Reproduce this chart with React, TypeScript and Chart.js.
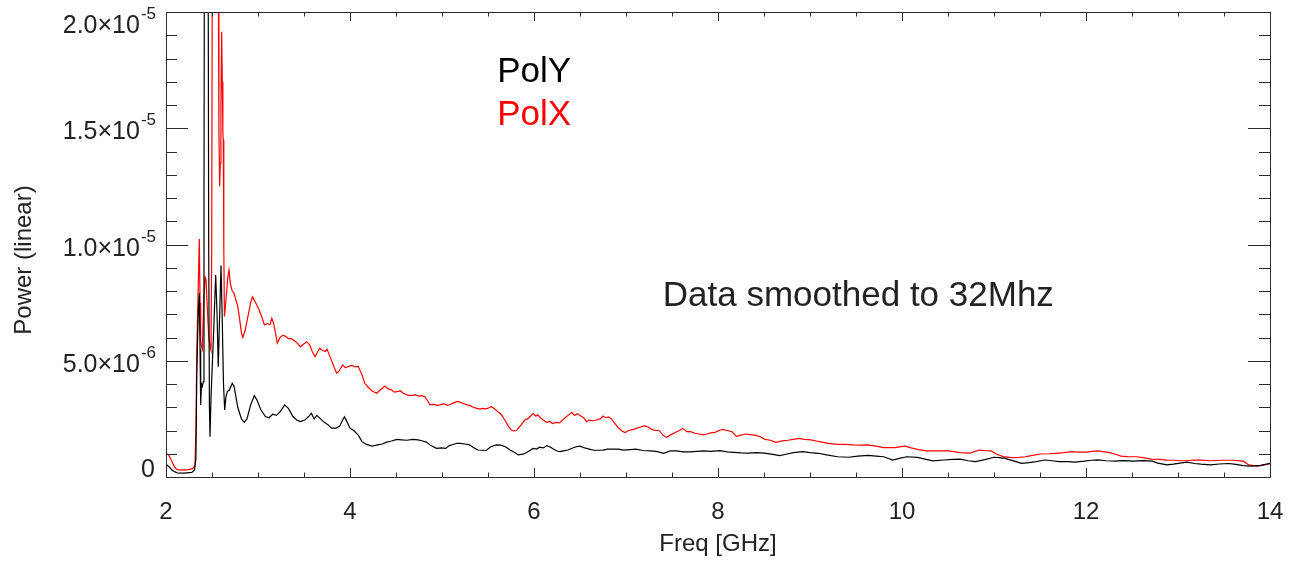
import React, { useEffect, useRef } from 'react';
import { Chart, registerables } from 'chart.js';

Chart.register(...registerables);

// PolY (black) – frequency in GHz, power in units of 1e-6
const FREQ_Y = [
  2.0, 2.03, 2.07, 2.12, 2.2, 2.28, 2.31, 2.325, 2.335, 2.35, 2.362, 2.37, 2.377, 2.385, 2.395, 2.405,
  2.413, 2.42, 2.455, 2.464, 2.472, 2.478, 2.49, 2.52, 2.54, 2.555, 2.568, 2.58, 2.598, 2.61, 2.625, 2.638,
  2.65, 2.666, 2.69, 2.72, 2.74, 2.78, 2.82, 2.85, 2.88, 2.92, 2.96, 2.99, 3.03, 3.08, 3.12, 3.16,
  3.2, 3.24, 3.29, 3.33, 3.38, 3.42, 3.46, 3.51, 3.55, 3.58, 3.61, 3.64, 3.68, 3.72, 3.76, 3.8,
  3.85, 3.89, 3.92, 3.94, 3.97, 4.0, 4.04, 4.09, 4.13, 4.18, 4.24, 4.3, 4.35, 4.4, 4.45, 4.51,
  4.56, 4.62, 4.68, 4.74, 4.79, 4.83, 4.88, 4.94, 4.99, 5.04, 5.08, 5.12, 5.16, 5.2, 5.25, 5.3,
  5.35, 5.39, 5.44, 5.48, 5.53, 5.59, 5.64, 5.69, 5.74, 5.79, 5.83, 5.88, 5.92, 5.96, 5.99, 6.03,
  6.06, 6.1, 6.14, 6.18, 6.21, 6.25, 6.28, 6.32, 6.37, 6.42, 6.46, 6.5, 6.55, 6.6, 6.65, 6.7,
  6.75, 6.8, 6.86, 6.92, 6.97, 7.04, 7.11, 7.18, 7.26, 7.33, 7.41, 7.48, 7.55, 7.62, 7.7, 7.77,
  7.84, 7.92, 8.02, 8.1, 8.17, 8.25, 8.33, 8.42, 8.5, 8.58, 8.67, 8.74, 8.82, 8.92, 9.0, 9.09,
  9.18, 9.3, 9.42, 9.52, 9.63, 9.72, 9.8, 9.9, 9.97, 10.05, 10.17, 10.26, 10.34, 10.45, 10.55, 10.63,
  10.72, 10.8, 10.9, 11.0, 11.06, 11.12, 11.22, 11.3, 11.38, 11.46, 11.55, 11.63, 11.71, 11.8, 11.88, 11.98,
  12.06, 12.13, 12.22, 12.32, 12.4, 12.51, 12.62, 12.72, 12.78, 12.88, 12.95, 13.02, 13.1, 13.18, 13.25, 13.35,
  13.45, 13.55, 13.63, 13.71, 13.8, 13.9, 14.0,
];
const POL_Y = [
  0.55, 0.45, 0.28, 0.18, 0.17, 0.2, 0.3, 0.8, 4.5, 7.0, 7.9, 5.5, 3.1, 4.0, 3.9, 4.1,
  12, 30, 30, 10, 3, 1.73, 3.5, 6.5, 8.69, 7, 4.74, 6.5, 9.1, 7, 4, 2.88,
  3.4, 3.67, 3.75, 4.03, 3.9, 3.0, 2.5, 2.35, 2.5, 3.1, 3.5, 3.3, 2.9, 2.6, 2.55, 2.7,
  2.65, 2.8, 3.1, 2.95, 2.6, 2.45, 2.38, 2.45, 2.6, 2.74, 2.5, 2.65, 2.5, 2.35, 2.25, 2.1,
  2.1, 2.2, 2.45, 2.59, 2.35, 2.1, 2.0, 1.8, 1.52, 1.4, 1.33, 1.38, 1.42, 1.5, 1.55, 1.62,
  1.6, 1.58, 1.62, 1.6, 1.55, 1.5, 1.35, 1.23, 1.25, 1.23, 1.35, 1.4, 1.45, 1.45, 1.42, 1.38,
  1.25, 1.16, 1.15, 1.14, 1.3, 1.38, 1.37, 1.3, 1.16, 1.05, 0.95, 0.98, 1.05, 1.15, 1.23, 1.2,
  1.28, 1.25, 1.35, 1.28, 1.2, 1.12, 1.09, 1.12, 1.16, 1.25, 1.3, 1.33, 1.25, 1.2, 1.15, 1.15,
  1.16, 1.2, 1.2, 1.2, 1.16, 1.18, 1.2, 1.14, 1.12, 1.1, 1.02, 1.12, 1.12, 1.08, 1.08, 1.1,
  1.12, 1.1, 1.13, 1.08, 1.06, 1.04, 1.03, 1.05, 1.03, 0.98, 0.92, 0.98, 1.05, 1.09, 1.05, 1.02,
  0.95, 0.87, 0.85, 0.9, 0.93, 0.9, 0.87, 0.73, 0.8, 0.87, 0.84, 0.76, 0.69, 0.73, 0.76, 0.77,
  0.7, 0.66, 0.75, 0.85, 0.83, 0.8, 0.68, 0.59, 0.62, 0.66, 0.73, 0.7, 0.66, 0.66, 0.64, 0.68,
  0.72, 0.74, 0.7, 0.68, 0.7, 0.68, 0.7, 0.68, 0.6, 0.52, 0.55, 0.6, 0.64, 0.58, 0.55, 0.52,
  0.56, 0.58, 0.54, 0.49, 0.47, 0.5, 0.59,
];

// PolX (red) – frequency in GHz, power in units of 1e-6
const FREQ_X = [
  2.0, 2.03, 2.06, 2.09, 2.12, 2.18, 2.24, 2.29, 2.315, 2.325, 2.335, 2.345, 2.355, 2.362, 2.37, 2.377,
  2.387, 2.395, 2.41, 2.425, 2.435, 2.45, 2.465, 2.48, 2.489, 2.497, 2.503, 2.51, 2.56, 2.568, 2.575, 2.583,
  2.59, 2.597, 2.605, 2.612, 2.618, 2.623, 2.628, 2.635, 2.645, 2.66, 2.672, 2.685, 2.7, 2.72, 2.74, 2.76,
  2.78, 2.8, 2.82, 2.835, 2.86, 2.89, 2.92, 2.94, 2.96, 2.98, 3.01, 3.04, 3.07, 3.1, 3.13, 3.15,
  3.17, 3.19, 3.21, 3.24, 3.27, 3.3, 3.33, 3.36, 3.4, 3.43, 3.46, 3.49, 3.53, 3.56, 3.59, 3.62,
  3.65, 3.67, 3.7, 3.73, 3.75, 3.78, 3.81, 3.84, 3.855, 3.88, 3.92, 3.95, 3.98, 4.02, 4.05, 4.09,
  4.13, 4.16, 4.2, 4.24, 4.29, 4.33, 4.38, 4.41, 4.45, 4.48, 4.51, 4.55, 4.58, 4.62, 4.66, 4.71,
  4.75, 4.78, 4.815, 4.84, 4.87, 4.91, 4.95, 4.98, 5.02, 5.06, 5.09, 5.13, 5.17, 5.2, 5.24, 5.27,
  5.3, 5.34, 5.38, 5.41, 5.44, 5.48, 5.51, 5.54, 5.58, 5.61, 5.63, 5.66, 5.69, 5.72, 5.75, 5.78,
  5.81, 5.84, 5.87, 5.9, 5.93, 5.96, 5.99, 6.02, 6.04, 6.07, 6.1, 6.14, 6.17, 6.2, 6.24, 6.28,
  6.31, 6.34, 6.37, 6.41, 6.44, 6.47, 6.5, 6.54, 6.57, 6.6, 6.64, 6.68, 6.72, 6.75, 6.78, 6.81,
  6.84, 6.88, 6.92, 6.96, 6.99, 7.03, 7.08, 7.12, 7.16, 7.2, 7.24, 7.28, 7.32, 7.36, 7.4, 7.44,
  7.48, 7.53, 7.58, 7.62, 7.66, 7.7, 7.75, 7.8, 7.84, 7.88, 7.92, 7.97, 8.01, 8.05, 8.1, 8.15,
  8.2, 8.25, 8.3, 8.35, 8.4, 8.45, 8.51, 8.57, 8.63, 8.7, 8.76, 8.82, 8.88, 8.94, 9.01, 9.07,
  9.13, 9.2, 9.3, 9.38, 9.47, 9.55, 9.63, 9.72, 9.8, 9.92, 10.03, 10.1, 10.18, 10.26, 10.38, 10.51,
  10.63, 10.74, 10.84, 10.92, 10.97, 11.03, 11.1, 11.19, 11.27, 11.34, 11.42, 11.51, 11.6, 11.67, 11.76, 11.84,
  11.92, 12.0, 12.07, 12.13, 12.2, 12.26, 12.32, 12.38, 12.45, 12.55, 12.62, 12.71, 12.8, 12.88, 12.96, 13.02,
  13.09, 13.17, 13.25, 13.35, 13.47, 13.6, 13.71, 13.77, 13.87, 13.95, 14.0,
];
const POL_X = [
  1.02, 0.95, 0.7, 0.45, 0.32, 0.3, 0.32, 0.36, 0.5, 2.0, 5.5, 7.2, 9.0, 10.24, 7.5, 5.82,
  5.6, 5.5, 7.5, 8.6, 8.5, 7.2, 6.0, 5.6, 5.46, 10, 22, 30, 30, 22, 15, 12.5,
  13.5, 16, 19.15, 17, 14.8, 14.5, 10, 6.9, 7.3, 8.0, 8.6, 8.9, 8.3, 8.0, 7.9, 7.6,
  7.35, 6.8, 6.2, 6.0, 6.3, 6.9, 7.5, 7.75, 7.6, 7.45, 7.2, 6.9, 6.54, 6.6, 6.55, 6.83,
  6.6, 6.2, 5.76, 6.0, 6.1, 6.05, 5.95, 5.95, 5.85, 5.75, 5.6, 5.7, 5.82, 5.7, 5.4, 5.17,
  5.4, 5.53, 5.45, 5.4, 5.5, 5.2, 4.9, 4.6, 4.46, 4.55, 4.82, 4.7, 4.75, 4.8, 4.75, 4.75,
  4.4, 4.03, 3.85, 3.7, 3.6, 3.75, 3.91, 3.8, 3.75, 3.65, 3.67, 3.7, 3.6, 3.53, 3.5, 3.53,
  3.48, 3.5, 3.45, 3.3, 3.1, 3.12, 3.08, 3.1, 3.15, 3.08, 3.12, 3.2, 3.25, 3.21, 3.15, 3.1,
  3.08, 3.0, 2.95, 2.92, 2.95, 2.93, 2.98, 3.02, 2.9, 2.8, 2.74, 2.6, 2.4, 2.2, 2.03, 1.98,
  2.0, 2.15, 2.3, 2.45, 2.5, 2.6, 2.74, 2.62, 2.68, 2.55, 2.45, 2.34, 2.4, 2.3, 2.35, 2.33,
  2.45, 2.55, 2.65, 2.78, 2.65, 2.72, 2.65, 2.55, 2.38, 2.45, 2.42, 2.45, 2.5, 2.62, 2.55, 2.58,
  2.5, 2.3, 2.1, 1.97, 1.91, 2.0, 2.05, 2.1, 2.15, 2.2, 2.15, 2.05, 2.0, 2.0, 1.8, 1.71,
  1.8, 1.9, 2.0, 2.09, 1.95, 1.95, 1.88, 1.85, 1.81, 1.85, 1.9, 1.92, 2.0, 2.05, 2.0, 1.95,
  1.75, 1.8, 1.85, 1.82, 1.8, 1.75, 1.62, 1.58, 1.49, 1.55, 1.58, 1.62, 1.66, 1.62, 1.6, 1.55,
  1.5, 1.45, 1.4, 1.4, 1.38, 1.37, 1.38, 1.33, 1.26, 1.26, 1.33, 1.25, 1.18, 1.12, 1.12, 1.12,
  1.05, 1.03, 1.16, 1.13, 1.12, 0.98, 0.88, 0.83, 0.84, 0.87, 0.93, 0.99, 1.0, 1.02, 1.05, 1.09,
  1.07, 1.07, 1.1, 1.12, 1.08, 1.05, 0.98, 0.9, 0.88, 0.87, 0.83, 0.77, 0.76, 0.73, 0.72, 0.7,
  0.7, 0.73, 0.73, 0.7, 0.72, 0.72, 0.68, 0.52, 0.47, 0.53, 0.57,
];

const VALUE_UNIT = 1e-6;

// Axis ticks
const X_MAJOR = [2, 4, 6, 8, 10, 12, 14];
const X_TICK_LABELS = ['2', '4', '6', '8', '10', '12', '14'];
const X_MINOR_STEP = 0.5;
const Y_MAJOR = [0, 5e-6, 1e-5, 1.5e-5, 2e-5];
const Y_TICK_MANTISSA = ['0', '5.0×10', '1.0×10', '1.5×10', '2.0×10'];
const Y_TICK_EXPONENT = ['', '-6', '-5', '-5', '-5'];
const Y_MINOR_STEP = 1e-6;

const X_TITLE = 'Freq [GHz]';
const Y_TITLE = 'Power (linear)';
const SERIES_NAMES = ['PolY', 'PolX'];
const SERIES_COLORS = ['#000000', '#ff0000'];
const NOTE = 'Data smoothed to 32Mhz';

const FONT = '"Liberation Sans", Arial, Helvetica, sans-serif';
const TEXT_COLOR = '#222222';

const framePlugin = {
  id: 'idlFrame',
  afterDatasetsDraw(chart: any) {
    const { ctx, chartArea, scales } = chart;
    const { left, right, top, bottom } = chartArea;
    const xs = scales.x;
    const ys = scales.y;
    ctx.save();
    ctx.strokeStyle = '#2a2a2a';
    ctx.lineWidth = 1;
    ctx.beginPath();
    ctx.rect(Math.round(left) + 0.5, Math.round(top) + 0.5, Math.round(right - left), Math.round(bottom - top));
    ctx.stroke();

    ctx.beginPath();
    // x ticks (bottom & top)
    for (let v = 2; v <= 14 + 1e-9; v += X_MINOR_STEP) {
      const isMajor = X_MAJOR.some((m) => Math.abs(m - v) < 1e-9);
      const len = isMajor ? 9 : 4.5;
      const px = Math.round(xs.getPixelForValue(v)) + 0.5;
      ctx.moveTo(px, bottom);
      ctx.lineTo(px, bottom - len);
      ctx.moveTo(px, top);
      ctx.lineTo(px, top + len);
    }
    // y ticks (left & right)
    for (let i = 0; i <= 20; i++) {
      const v = i * Y_MINOR_STEP;
      const isMajor = i % 5 === 0;
      const len = isMajor ? 22 : 11;
      const py = Math.round(ys.getPixelForValue(v)) + 0.5;
      ctx.moveTo(left, py);
      ctx.lineTo(left + len, py);
      ctx.moveTo(right, py);
      ctx.lineTo(right - len, py);
    }
    ctx.stroke();

    // x tick labels
    ctx.fillStyle = TEXT_COLOR;
    ctx.font = `24px ${FONT}`;
    ctx.textAlign = 'center';
    ctx.textBaseline = 'alphabetic';
    X_MAJOR.forEach((v, i) => {
      ctx.fillText(X_TICK_LABELS[i], xs.getPixelForValue(v), bottom + 42);
    });

    // y tick labels with superscript exponent
    const labelRight = left - 11;
    Y_MAJOR.forEach((v, i) => {
      const py = ys.getPixelForValue(v);
      let base = py + 11;
      if (i === 0) base = py;
      if (i === Y_MAJOR.length - 1) base = py + 21;
      ctx.font = `25px ${FONT}`;
      const mw = ctx.measureText(Y_TICK_MANTISSA[i]).width;
      ctx.font = `17px ${FONT}`;
      const ew = Y_TICK_EXPONENT[i] ? ctx.measureText(Y_TICK_EXPONENT[i]).width : 0;
      const start = labelRight - mw - ew;
      ctx.textAlign = 'left';
      ctx.font = `25px ${FONT}`;
      ctx.fillText(Y_TICK_MANTISSA[i], start, base);
      if (Y_TICK_EXPONENT[i]) {
        ctx.font = `17px ${FONT}`;
        ctx.fillText(Y_TICK_EXPONENT[i], start + mw + 1, base - 14);
      }
    });

    // axis titles
    ctx.font = `24px ${FONT}`;
    ctx.textAlign = 'center';
    ctx.fillText(X_TITLE, (left + right) / 2, bottom + 74);
    ctx.save();
    ctx.translate(31, 260);
    ctx.rotate(-Math.PI / 2);
    ctx.fillText(Y_TITLE, 0, 0);
    ctx.restore();

    // annotations
    ctx.textAlign = 'left';
    ctx.font = `35px ${FONT}`;
    ctx.fillStyle = SERIES_COLORS[0];
    ctx.fillText(SERIES_NAMES[0], xs.getPixelForValue(5.6), ys.getPixelForValue(16.99e-6));
    ctx.fillStyle = SERIES_COLORS[1];
    ctx.fillText(SERIES_NAMES[1], xs.getPixelForValue(5.6), ys.getPixelForValue(15.13e-6));
    ctx.fillStyle = TEXT_COLOR;
    ctx.fillText(NOTE, xs.getPixelForValue(7.4), ys.getPixelForValue(7.35e-6));
    ctx.restore();
  },
};

export default function App() {
  const canvasRef = useRef<HTMLCanvasElement | null>(null);

  useEffect(() => {
    const canvas = canvasRef.current;
    if (!canvas) return;
    const chart = new Chart(canvas, {
      type: 'line',
      data: {
        datasets: [
          {
            label: SERIES_NAMES[0],
            data: FREQ_Y.map((f, i) => ({ x: f, y: POL_Y[i] * VALUE_UNIT })),
            borderColor: SERIES_COLORS[0],
            borderWidth: 1.2,
            pointRadius: 0,
            tension: 0,
            fill: false,
          },
          {
            label: SERIES_NAMES[1],
            data: FREQ_X.map((f, i) => ({ x: f, y: POL_X[i] * VALUE_UNIT })),
            borderColor: SERIES_COLORS[1],
            borderWidth: 1.2,
            pointRadius: 0,
            tension: 0,
            fill: false,
          },
        ],
      },
      options: {
        animation: false,
        responsive: false,
        maintainAspectRatio: false,
        layout: { padding: { left: 166, right: 32, top: 12, bottom: 93 } },
        plugins: { legend: { display: false }, tooltip: { enabled: false }, title: { display: false } },
        scales: {
          x: { type: 'linear', min: 2, max: 14, display: false },
          y: { type: 'linear', min: 0, max: 2e-5, display: false },
        },
      },
      plugins: [framePlugin],
    } as any);
    return () => chart.destroy();
  }, []);

  return (
    <div style={{ position: 'fixed', left: 0, top: 0, width: 1302, height: 570, background: '#ffffff' }}>
      <canvas ref={canvasRef} width={1302} height={570} style={{ display: 'block', width: 1302, height: 570 }} />
    </div>
  );
}
